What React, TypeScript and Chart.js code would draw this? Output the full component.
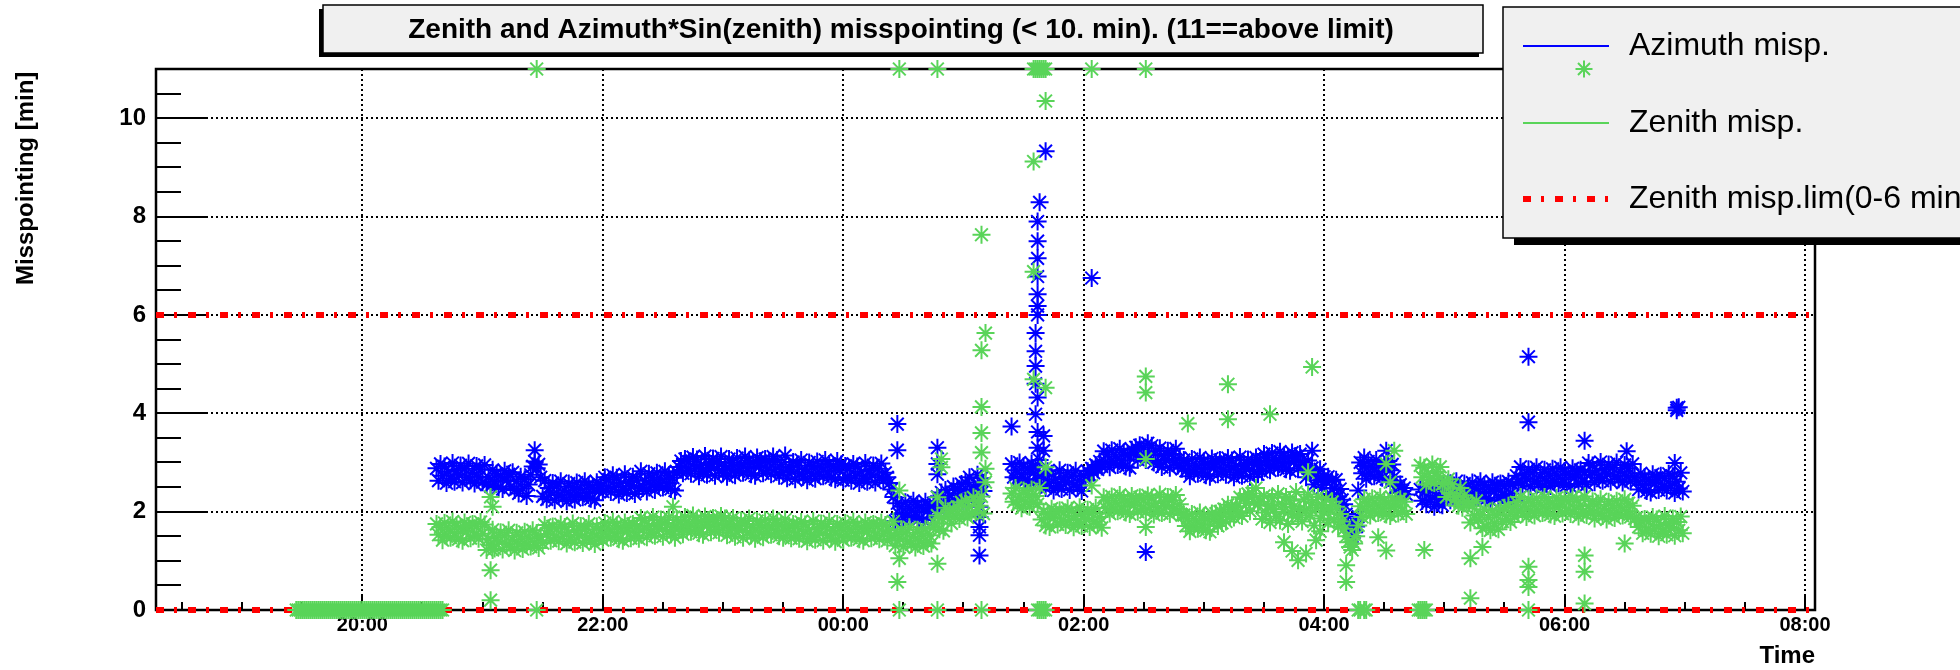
import React, { useEffect, useRef } from "react";
import { Chart, registerables } from "chart.js";

Chart.register(...registerables);

// ---------------- text ----------------
const chartTitle = "Zenith and Azimuth*Sin(zenith) misspointing (< 10. min). (11==above limit)";
const yAxisTitle = "Misspointing [min]";
const xAxisTitle = "Time";
const seriesNames = ["Azimuth misp.", "Zenith misp.", "Zenith misp.lim(0-6 min)"];

// ---------------- axes ----------------
const timeRange = ["18:17", "08:05"];
const timeTickLabels = ["20:00", "22:00", "00:00", "02:00", "04:00", "06:00", "08:00"];
const valueRange = [0, 11];
const valueTicks = [0, 2, 4, 6, 8, 10];

// ---------------- data ----------------
// One reading every SAMPLE_STEP_MIN minutes from BAND_START (null = no reading)
const SAMPLE_STEP_MIN = 1;
const BAND_START = "20:37";

const azimuthBand: (number | null)[] = [
  // 20:37
  2.88, 2.63, 2.97, 2.73, 2.92, 2.58, 2.81, 2.67, 2.99, 2.61, 2.84, 2.75, 2.94, 2.59, 2.87, 2.70, 2.98, 2.64, 2.79, 2.57, 2.93, 2.71, 2.86, 2.60, 2.95,
  2.55, 2.69, 2.52, 2.85, 2.61, 2.77, 2.49, 2.72, 2.46, 2.83, 2.64, 2.76, 2.51, 2.80,
  2.44, 2.62, 2.37, 2.71, 2.47, 2.66, 2.32, 2.55,
  2.75, 2.92, 3.02, 2.88, 2.96, 2.70,
  // 21:30
  2.31, 2.63, 2.25, 2.48, 2.39, 2.58, 2.23, 2.51, 2.34, 2.62, 2.28, 2.43, 2.21, 2.57, 2.35,
  2.50, 2.24, 2.59, 2.32, 2.46, 2.29, 2.62, 2.38, 2.54, 2.26, 2.49, 2.23, 2.60, 2.41, 2.53,
  // 22:00
  2.41, 2.70, 2.47, 2.65, 2.40, 2.74, 2.50, 2.69, 2.35, 2.58, 2.44, 2.76, 2.38, 2.61, 2.52, 2.71, 2.36, 2.64, 2.47,
  2.82, 2.48, 2.63, 2.41, 2.77, 2.55, 2.70, 2.44, 2.79, 2.52, 2.66, 2.49, 2.82, 2.58, 2.74, 2.46, 2.69, 2.43, 2.80,
  // 22:38
  2.91, 3.03, 2.78, 3.07, 2.84,
  3.02, 2.77, 3.11, 2.87, 3.06, 2.72, 2.95, 2.81, 3.13, 2.75, 2.98, 2.89, 3.08, 2.73, 3.01, 2.84, 3.12, 2.78, 2.93, 2.71,
  3.07, 2.85, 3.00, 2.74, 3.09, 2.82, 2.96, 2.79, 3.12, 2.88, 3.04, 2.76, 2.99, 2.73, 3.10, 2.91, 3.03, 2.78, 3.07, 2.84,
  3.01, 2.76, 3.12, 2.86, 3.05, 2.73, 2.96, 2.80, 3.14,
  // 23:32
  2.68, 2.91, 2.82, 3.01, 2.66, 2.94, 2.77, 3.05, 2.71, 2.86, 2.64, 3.00, 2.78, 2.93, 2.67, 3.02, 2.75, 2.89, 2.72, 3.05,
  2.81, 2.97, 2.69, 2.92, 2.66, 3.03, 2.84, 2.96,
  // 00:00
  2.64, 2.93, 2.70, 2.88, 2.63, 2.97, 2.73, 2.92, 2.58, 2.81, 2.67, 2.99, 2.61, 2.84, 2.75, 2.94, 2.59, 2.87, 2.70, 2.98,
  2.64, 2.79, 2.70, 2.58, 2.45, 2.30,
  // 00:26
  1.81, 2.17, 1.95, 2.10, 1.84, 2.19, 1.92, 2.06, 1.89, 2.22, 1.98, 2.14, 1.86, 2.09, 1.83, 2.20, 2.01, 2.13, 1.88, 2.17,
  // 00:46
  2.12, 2.30, 2.05, 2.39, 2.15, 2.44, 2.10, 2.33, 2.19, 2.51, 2.23, 2.46, 2.37, 2.56, 2.21,
  2.59, 2.42, 2.70, 2.36, 2.51, 2.39, 2.75, 2.53, 2.68, 2.42,
  // 01:11
  null, null, null, null, null, null, null, null, null, null, null, null, null,
  // 01:24
  2.97, 2.70, 2.84, 2.67, 3.00, 2.76, 2.92, 2.64, 2.87, 2.61, 2.98, 2.79, 2.91, 2.66,
  // 01:38
  2.78, 2.55, 2.73, 2.48, 2.82, 2.58, 2.77, 2.43, 2.66, 2.52, 2.84, 2.46, 2.69, 2.60, 2.79, 2.44, 2.72, 2.55, 2.83, 2.49,
  2.64, 2.42,
  // 02:00
  2.74, 2.65, 2.82, 2.75, 2.88, 2.79, 2.95, 2.86, 3.02, 2.92,
  // 02:10
  3.23, 3.01, 3.16, 2.90, 3.25, 2.98, 3.12, 2.95, 3.28, 3.04, 3.20, 2.92, 3.15, 2.89, 3.26,
  3.19, 3.31, 3.06, 3.35, 3.12, 3.30, 3.05, 3.39, 3.15, 3.34, 3.00, 3.23,
  2.97, 3.29, 2.91, 3.14, 3.05, 3.24, 2.89, 3.17, 3.00, 3.28, 2.94, 3.09, 2.87,
  // 02:50
  3.05, 2.83, 2.98, 2.72, 3.07, 2.80, 2.94, 2.77, 3.10, 2.86, 3.02, 2.74, 2.97, 2.71, 3.08, 2.89, 3.01, 2.76, 3.05, 2.82,
  3.00, 2.75, 3.09, 2.85, 3.04, 2.70, 2.93, 2.79, 3.11, 2.73, 2.96, 2.87, 3.06, 2.71, 2.99, 2.82, 3.10, 2.76,
  // 03:28
  3.03, 2.81, 3.17, 2.95, 3.10, 2.84, 3.19, 2.92, 3.06, 2.89, 3.22, 2.98, 3.14, 2.86, 3.09, 2.83, 3.20, 3.01, 3.13, 2.88,
  3.17, 2.94,
  // 03:50
  2.95, 2.70, 3.04, 2.80, 2.89, 2.55, 2.78, 2.64, 2.86, 2.48, 2.71, 2.62, 2.71, 2.36, 2.64, 2.47, 2.65, 2.31, 2.46, 2.24,
  // 04:10
  2.15, 1.95, 1.75, 1.62, 1.50, 1.58, 1.70, 1.90,
  // 04:18
  3.00, 2.78, 2.93, 2.67, 3.02, 2.75, 2.89, 2.72, 3.05, 2.81, 2.97, 2.69, 2.92, 2.66, 3.03, 2.84, 2.96, 2.71,
  2.52, 2.38, 2.55, 2.42, 2.48, 2.35,
  // 04:42
  null, null, null, null, null, null,
  // 04:48
  2.45, 2.22, 2.40, 2.15, 2.49, 2.25, 2.44, 2.10, 2.33, 2.19, 2.51, 2.13,
  // 05:00
  2.48, 2.39, 2.58, 2.23, 2.51, 2.34, 2.62, 2.28, 2.43, 2.21, 2.57, 2.35, 2.50, 2.24, 2.59, 2.32, 2.46, 2.29, 2.62, 2.38,
  2.54, 2.26, 2.49, 2.23, 2.60, 2.41, 2.53, 2.28, 2.57, 2.34, 2.52, 2.27, 2.61, 2.37, 2.56, 2.22,
  // 05:36
  2.73, 2.59, 2.91, 2.53, 2.76, 2.67, 2.86, 2.51, 2.79, 2.62, 2.90, 2.56, 2.71, 2.49, 2.85, 2.63, 2.78, 2.52, 2.87, 2.60,
  2.74, 2.57, 2.90, 2.66, 2.82, 2.54, 2.77, 2.51, 2.88, 2.69, 2.81, 2.56, 2.85, 2.62, 2.80, 2.55,
  // 06:12
  2.99, 2.75, 2.94, 2.60, 2.83, 2.69, 3.01, 2.63, 2.86, 2.77, 2.96, 2.61, 2.89, 2.72, 3.00, 2.66, 2.81, 2.59, 2.95, 2.73,
  2.88, 2.62, 2.97, 2.70,
  // 06:36
  2.62, 2.45, 2.78, 2.54, 2.70, 2.42, 2.65, 2.39, 2.76, 2.57, 2.69, 2.44, 2.73, 2.50, 2.68, 2.43, 2.77, 2.53, 2.72, 2.38,
  2.61, 2.47, 2.79, 2.41,
];

const zenithBand: (number | null)[] = [
  // 20:37
  1.75, 1.53, 1.68, 1.42, 1.77, 1.50, 1.64, 1.47, 1.80, 1.56, 1.72, 1.44, 1.67, 1.41, 1.78, 1.59, 1.71, 1.46, 1.75, 1.52,
  1.70, 1.45, 1.79, 1.55, 1.74,
  // 21:02
  1.22, 1.45, 1.31, 1.63, 1.25, 1.48, 1.39, 1.58, 1.23, 1.51, 1.34, 1.62, 1.28, 1.43, 1.21, 1.57, 1.35, 1.50, 1.24, 1.59,
  1.32, 1.46, 1.29, 1.62, 1.38, 1.54, 1.26, 1.49,
  // 21:30
  1.36, 1.73, 1.54, 1.66, 1.41, 1.70, 1.47, 1.65, 1.40, 1.74, 1.50, 1.69, 1.35, 1.58, 1.44, 1.76, 1.38, 1.61, 1.52, 1.71,
  1.36, 1.64, 1.47, 1.75, 1.41, 1.56, 1.34, 1.70, 1.48, 1.63,
  // 22:00
  1.42, 1.77, 1.50, 1.64, 1.47, 1.80, 1.56, 1.72, 1.44, 1.67, 1.41, 1.78, 1.59, 1.71, 1.46, 1.75, 1.52, 1.70, 1.45,
  1.87, 1.63, 1.82, 1.48, 1.71, 1.57, 1.89, 1.51, 1.74, 1.65, 1.84, 1.49, 1.77, 1.60, 1.88, 1.54, 1.69, 1.47, 1.83,
  // 22:38
  1.65, 1.80, 1.54, 1.89, 1.62, 1.76, 1.59, 1.92, 1.68, 1.84, 1.56, 1.79, 1.53, 1.90, 1.71, 1.83, 1.58, 1.87, 1.64, 1.82,
  1.57, 1.91, 1.67, 1.86, 1.52, 1.75, 1.61,
  1.87, 1.49, 1.72, 1.63, 1.82, 1.47, 1.75, 1.58, 1.86, 1.52, 1.67, 1.45, 1.81, 1.59, 1.74, 1.48, 1.83, 1.56, 1.70, 1.53,
  1.86, 1.62, 1.78, 1.50, 1.73, 1.47, 1.84,
  // 23:32
  1.59, 1.71, 1.46, 1.75, 1.52,
  1.70, 1.45, 1.79, 1.55, 1.74, 1.40, 1.63, 1.49, 1.81, 1.43, 1.66, 1.57, 1.76, 1.41, 1.69, 1.52, 1.80, 1.46, 1.61, 1.39,
  1.75, 1.53, 1.68, 1.42, 1.77, 1.50, 1.64, 1.47, 1.80, 1.56, 1.72, 1.44, 1.67, 1.41, 1.78, 1.59, 1.71, 1.46, 1.75, 1.52,
  1.71, 1.44, 1.78, 1.56, 1.73, 1.41, 1.62, 1.50, 1.80,
  // 00:26
  1.31, 1.54, 1.45, 1.64, 1.29, 1.57, 1.40, 1.68, 1.34, 1.49, 1.27, 1.63, 1.41, 1.56, 1.30, 1.65, 1.38, 1.52, 1.35, 1.68,
  // 00:46
  1.76, 1.92, 1.64, 1.87, 1.61, 2.08, 1.89, 2.01, 1.76, 2.05, 1.92, 2.10, 1.85, 2.19, 1.95,
  2.22, 1.88, 2.11, 1.97, 2.29, 1.98, 2.21, 2.12, 2.31, 1.96,
  // 01:11
  null, null, null, null, null, null, null, null, null, null, null, null, null,
  // 01:24
  2.37, 2.20, 2.48, 2.14, 2.29, 2.07, 2.43, 2.21, 2.36, 2.10, 2.45, 2.18, 2.32, 2.15, 2.48,
  // 01:39
  1.84, 2.00, 1.72, 1.95, 1.69, 2.06, 1.87, 1.99, 1.74, 2.03, 1.80,
  1.98, 1.73, 2.07, 1.83, 2.02, 1.68, 1.91, 1.77, 2.09, 1.71, 1.94, 1.85, 2.04, 1.69, 1.97, 1.80, 2.08, 1.74, 1.89, 1.67,
  // 02:10
  2.29, 2.07, 2.22, 1.96, 2.31, 2.04, 2.18, 2.01, 2.34, 2.10, 2.26, 1.98, 2.21, 1.95, 2.32, 2.13, 2.25, 2.00, 2.29, 2.06,
  2.24, 1.99, 2.33, 2.09, 2.28, 1.94, 2.17, 2.03, 2.35, 1.97, 2.20, 2.11, 2.30, 1.95, 2.23, 2.06, 2.34, 2.00, 2.15, 1.93,
  // 02:50
  1.93, 1.71, 1.86, 1.60, 1.95, 1.68, 1.82, 1.65, 1.98, 1.74, 1.90, 1.62, 1.85, 1.59, 1.96,
  // 03:05
  1.84, 1.96, 1.71, 2.00, 1.77, 2.05, 1.80, 2.14, 1.90, 2.09, 1.88, 2.11, 1.97, 2.29, 1.91,
  2.26, 2.17, 2.36, 2.01, 2.37, 2.20, 2.48, 2.14,
  // 03:28
  2.20, 1.85, 2.32, 1.98, 2.12, 1.78, 2.28, 2.05, 1.90, 2.36, 1.82, 2.15, 2.00, 2.30, 1.75, 2.22, 1.95, 2.10, 2.40, 1.88,
  2.05, 1.80, 2.25, 2.02, 2.35, 1.92, 2.18, 1.72, 2.08, 2.30, 1.86, 2.14, 1.98, 2.26, 1.78, 2.04, 2.20, 1.84, 2.10, 1.70,
  1.95, 1.80,
  // 04:10
  1.65, 1.50, 1.38, 1.28, 1.22, 1.35, 1.50, 1.72,
  // 04:18
  2.11, 1.89, 2.25, 2.03, 2.18, 1.92, 2.27, 2.00, 2.14, 1.97, 2.30, 2.06, 2.22, 1.94, 2.17, 1.91, 2.28, 2.09, 2.21, 1.96,
  2.25, 2.02, 2.20, 1.95,
  // 04:42
  null, null, null, null, null, null,
  // 04:48
  2.94, 2.70, 2.89, 2.55, 2.78, 2.64, 2.96, 2.58, 2.81, 2.72, 2.91, 2.56,
  // 05:00
  2.58, 2.30, 2.66, 2.38, 2.55, 2.24, 2.30, 2.12, 2.48, 2.08, 2.33, 2.20,
  2.17, 1.78, 2.11, 1.92, 2.22, 1.84, 1.93, 1.66, 2.05, 1.70, 1.88, 1.62,
  2.02, 1.76, 1.93, 1.64, 2.04, 1.80, 2.08, 1.85, 2.12, 1.79, 2.02, 1.90,
  // 05:36
  2.19, 2.02, 2.30, 1.96, 2.11, 1.89, 2.25, 2.03, 2.18, 1.92, 2.27, 2.00, 2.14, 1.97, 2.30, 2.06, 2.22, 1.94, 2.17, 1.91,
  2.28, 2.09, 2.21, 1.96, 2.25, 2.02, 2.20, 1.95, 2.29, 2.05, 2.24, 1.90, 2.13, 1.99, 2.31, 1.93,
  // 06:12
  2.11, 2.02, 2.21, 1.86, 2.14, 1.97, 2.25, 1.91, 2.06, 1.84, 2.20, 1.98, 2.13, 1.87, 2.22, 1.95, 2.09, 1.92, 2.25, 2.01,
  2.17, 1.89, 2.12, 1.86,
  // 06:36
  1.88, 1.69, 1.81, 1.56, 1.85, 1.62, 1.80, 1.55, 1.89, 1.65, 1.84, 1.50, 1.73, 1.59, 1.91, 1.53, 1.76, 1.67, 1.86, 1.51,
  1.79, 1.62, 1.90, 1.56,
];

// Zenith readings stuck at 0 before the run started (one per minute from ZERO_RUN_START)
const ZERO_RUN_START = "19:27";
const zenithZeroRun = [
  0, 0, 0, 0, 0, 0, 0, 0, 0, 0,
  0, 0, 0, 0, 0, 0, 0, 0, 0, 0,
  0, 0, 0, 0, 0, 0, 0, 0, 0, 0,
  0, 0, 0, 0, 0, 0, 0, 0, 0, 0,
  0, 0, 0, 0, 0, 0, 0, 0, 0, 0,
  0, 0, 0, 0, 0, 0, 0, 0, 0, 0,
  0, 0, 0, 0, 0, 0, 0, 0, 0, 0,
  0, 0, 0, 0,
];

// Isolated readings
const azimuthOutlierTimes = [
  "21:26", "00:27", "00:27", "00:47", "00:47", "00:47",
  "01:08", "01:08", "01:08", "01:08", "01:08", "01:24",
  "01:41", "01:38", "01:37", "01:37", "01:37", "01:37", "01:37", "01:37", "01:37",
  "01:36", "01:36", "01:36", "01:36", "01:37", "01:36", "01:37", "01:37", "01:38", "01:40", "01:40",
  "02:04", "02:31", "03:54", "04:17", "04:31", "04:20",
  "05:42", "05:42", "06:10", "06:31", "06:55", "06:56", "06:56", "06:57",
];
const azimuthOutlierValues = [
  3.25, 3.78, 3.25, 3.30, 2.97, 2.76,
  2.10, 1.89, 1.69, 1.52, 1.11, 3.73,
  9.33, 8.29, 7.90, 7.50, 7.15, 6.78, 6.42, 6.18, 6.00,
  5.63, 5.26, 4.96, 4.60, 4.32, 3.98, 3.62, 3.30, 3.05, 3.54, 3.24,
  6.75, 1.18, 3.24, 2.43, 3.24, 3.10,
  5.15, 3.82, 3.44, 3.23, 2.99, 4.11, 4.06, 4.12,
];

const zenithOutlierTimes = [
  "21:27", "00:28", "00:47", "01:35", "01:36", "01:37", "01:38", "01:39", "01:40", "01:41", "02:04", "02:31",
  "21:27", "00:28", "00:47", "01:09", "01:37", "01:38", "01:39", "01:40", "01:41",
  "04:17", "04:18", "04:20", "04:21", "04:47", "04:48", "04:49", "04:50", "04:51", "05:42", "06:10",
  "21:04", "21:05", "21:05", "21:04", "21:04", "22:35",
  "00:28", "00:28", "00:27", "00:47", "00:47", "00:49", "00:49",
  "01:09", "01:11", "01:09", "01:09", "01:09", "01:09", "01:11", "01:11",
  "01:35", "01:41", "01:35", "01:35", "01:41", "01:41",
  "02:04", "02:31", "02:31", "02:31", "02:31", "02:52",
  "03:12", "03:12", "03:33", "03:54", "03:52", "03:40", "03:47", "03:51", "03:56", "03:44", "03:58",
  "04:11", "04:11", "04:27", "04:31", "04:31", "04:35", "04:33",
  "04:50", "05:13", "05:13", "05:19",
  "05:42", "05:42", "05:42", "06:10", "06:10", "06:30",
];
const zenithOutlierValues = [
  11, 11, 11, 11, 11, 11, 11, 11, 11, 11, 11, 11,
  0, 0, 0, 0, 0, 0, 0, 0, 0,
  0, 0, 0, 0, 0, 0, 0, 0, 0, 0, 0.13,
  2.30, 2.10, 1.22, 0.81, 0.20, 2.10,
  2.43, 1.05, 0.57, 2.29, 0.94, 3.07, 2.90,
  7.63, 5.63, 5.28, 4.13, 3.60, 3.20, 2.87, 2.60,
  9.12, 10.35, 6.88, 4.69, 4.52, 2.90,
  2.53, 4.75, 4.42, 3.07, 1.69, 3.79,
  4.59, 3.88, 3.98, 4.94, 2.80, 1.38, 1.01, 1.15, 1.42, 1.20, 1.60,
  0.91, 0.57, 1.48, 1.21, 2.97, 3.24, 2.60,
  1.22, 1.05, 0.24, 1.28,
  0.88, 0.61, 0.47, 1.11, 0.78, 1.35,
];

// Zenith misspointing limits
const limitValues = [6, 0];

// ---------------- style ----------------
const FONT = '"Liberation Sans", Arial, Helvetica, sans-serif';
const BLUE = "#0000ff";
const GREEN = "#59d459";
const RED = "#ff0000";
const LIMIT_DASH = [8, 10, 3, 11];

// ---------------- helpers ----------------
const toHours = (t: string) => {
  const [hh, mm] = t.split(":").map(Number);
  const h = hh + mm / 60;
  return h >= 12 ? h - 24 : h;
};
const fmtHours = (v: number) => {
  const h = v < 0 ? v + 24 : v;
  const hh = Math.floor(h + 1e-6);
  const mm = Math.round((h - hh) * 60);
  return `${String(hh).padStart(2, "0")}:${String(mm).padStart(2, "0")}`;
};
const runPoints = (start: string, values: (number | null)[]) => {
  const t0 = toHours(start);
  const out: { x: number; y: number }[] = [];
  values.forEach((v, i) => {
    if (v !== null) out.push({ x: t0 + (i * SAMPLE_STEP_MIN) / 60, y: v });
  });
  return out;
};
const pairPoints = (times: string[], values: number[]) =>
  times.map((t, i) => ({ x: toHours(t), y: values[i] }));

const drawAsterisk = (ctx: CanvasRenderingContext2D, cx: number, cy: number, r: number) => {
  const d = r * Math.SQRT1_2;
  ctx.beginPath();
  ctx.moveTo(cx - r, cy); ctx.lineTo(cx + r, cy);
  ctx.moveTo(cx, cy - r); ctx.lineTo(cx, cy + r);
  ctx.moveTo(cx - d, cy - d); ctx.lineTo(cx + d, cy + d);
  ctx.moveTo(cx - d, cy + d); ctx.lineTo(cx + d, cy - d);
  ctx.stroke();
};

// Frame and inside ticks (ROOT style)
const framePlugin = {
  id: "rootFrame",
  beforeDatasetsDraw(chart: any) {
    const { ctx, chartArea: a, scales } = chart;
    const xs = scales.x;
    const ys = scales.y;
    ctx.save();
    ctx.strokeStyle = "#000";
    ctx.lineWidth = 2;
    for (let v = valueRange[0]; v <= valueRange[1] + 1e-9; v += 0.5) {
      const py = Math.round(ys.getPixelForValue(v));
      const len = Math.abs(v % 2) < 1e-9 ? 50 : 25;
      ctx.beginPath();
      ctx.moveTo(a.left, py);
      ctx.lineTo(a.left + len, py);
      ctx.stroke();
    }
    const t0 = Math.ceil(toHours(timeRange[0]) * 2) / 2;
    const t1 = toHours(timeRange[1]);
    for (let t = t0; t <= t1 + 1e-9; t += 0.5) {
      const px = Math.round(xs.getPixelForValue(t));
      const major = Math.abs(((t % 2) + 2) % 2) < 1e-9;
      const len = major ? 16 : 8;
      ctx.beginPath();
      ctx.moveTo(px, a.bottom);
      ctx.lineTo(px, a.bottom - len);
      ctx.stroke();
    }
    ctx.lineWidth = 2.5;
    ctx.strokeRect(a.left, a.top, a.right - a.left, a.bottom - a.top);
    ctx.restore();
  },
};

// Title box, axis titles, legend box
const decorPlugin = {
  id: "rootDecor",
  afterDraw(chart: any) {
    const { ctx, chartArea: a } = chart;
    ctx.save();
    const T = { x: 323, y: 5, w: 1160, h: 48 };
    ctx.fillStyle = "#000";
    ctx.fillRect(T.x - 4, T.y + 4, T.w, T.h);
    ctx.fillStyle = "#f0f0f0";
    ctx.fillRect(T.x, T.y, T.w, T.h);
    ctx.strokeStyle = "#000";
    ctx.lineWidth = 1.5;
    ctx.strokeRect(T.x, T.y, T.w, T.h);
    ctx.fillStyle = "#000";
    ctx.font = `bold 28px ${FONT}`;
    ctx.textAlign = "center";
    ctx.textBaseline = "middle";
    ctx.fillText(chartTitle, T.x + T.w / 2 - 2, T.y + T.h / 2 + 1);

    ctx.font = `bold 24px ${FONT}`;
    ctx.save();
    ctx.translate(33, 285);
    ctx.rotate(-Math.PI / 2);
    ctx.textAlign = "left";
    ctx.textBaseline = "alphabetic";
    ctx.fillText(yAxisTitle, 0, 0);
    ctx.restore();
    ctx.font = `bold 24px ${FONT}`;
    ctx.textAlign = "right";
    ctx.textBaseline = "alphabetic";
    ctx.fillText(xAxisTitle, a.right, 663);

    const L = { x: 1503, y: 7, w: 500, h: 231 };
    ctx.fillStyle = "#000";
    ctx.fillRect(L.x + 11, L.y + 7, L.w, L.h);
    ctx.fillStyle = "#f0f0f0";
    ctx.fillRect(L.x, L.y, L.w, L.h);
    ctx.strokeStyle = "#000";
    ctx.lineWidth = 1.5;
    ctx.strokeRect(L.x, L.y, L.w, L.h);

    const x0 = 1523, x1 = 1609, tx = 1629;
    ctx.strokeStyle = BLUE; ctx.lineWidth = 2;
    ctx.beginPath(); ctx.moveTo(x0, 46); ctx.lineTo(x1, 46); ctx.stroke();
    ctx.strokeStyle = GREEN; ctx.lineWidth = 2;
    drawAsterisk(ctx, 1584, 69, 8.5);
    ctx.strokeStyle = GREEN; ctx.lineWidth = 2;
    ctx.beginPath(); ctx.moveTo(x0, 123); ctx.lineTo(x1, 123); ctx.stroke();
    ctx.strokeStyle = RED; ctx.lineWidth = 6; ctx.setLineDash(LIMIT_DASH);
    ctx.beginPath(); ctx.moveTo(x0, 199); ctx.lineTo(x1, 199); ctx.stroke();
    ctx.setLineDash([]);

    ctx.fillStyle = "#000";
    ctx.font = `32px ${FONT}`;
    ctx.textAlign = "left";
    ctx.textBaseline = "alphabetic";
    ctx.fillText(seriesNames[0], tx, 55);
    ctx.fillText(seriesNames[1], tx, 132);
    ctx.fillText(seriesNames[2], tx, 208);
    ctx.restore();
  },
};

export default function App() {
  const canvasRef = useRef<HTMLCanvasElement | null>(null);

  useEffect(() => {
    const canvas = canvasRef.current;
    if (!canvas) return;
    const xMin = toHours(timeRange[0]);
    const xMax = toHours(timeRange[1]);

    const zenithData = [
      ...runPoints(ZERO_RUN_START, zenithZeroRun),
      ...runPoints(BAND_START, zenithBand),
      ...pairPoints(zenithOutlierTimes, zenithOutlierValues),
    ];
    const azimuthData = [
      ...runPoints(BAND_START, azimuthBand),
      ...pairPoints(azimuthOutlierTimes, azimuthOutlierValues),
    ];
    const markerStyle = {
      pointStyle: "star" as const,
      pointRadius: 9,
      pointBorderWidth: 2,
      showLine: false,
      clip: false as any,
    };
    const limitDatasets = limitValues.map((v, i) => ({
      type: "line" as const,
      label: i === 0 ? seriesNames[2] : "",
      data: [{ x: xMin, y: v }, { x: xMax, y: v }],
      borderColor: RED,
      borderWidth: 6,
      borderDash: LIMIT_DASH,
      borderCapStyle: "butt" as const,
      pointRadius: 0,
      showLine: true,
      fill: false,
      order: 3,
      clip: false as any,
    }));

    const chart = new Chart(canvas, {
      type: "scatter",
      data: {
        datasets: [
          {
            label: seriesNames[1],
            data: zenithData,
            borderColor: GREEN,
            backgroundColor: GREEN,
            order: 1,
            ...markerStyle,
          },
          {
            label: seriesNames[0],
            data: azimuthData,
            borderColor: BLUE,
            backgroundColor: BLUE,
            order: 2,
            ...markerStyle,
          },
          ...limitDatasets,
        ] as any,
      },
      options: {
        responsive: false,
        animation: false,
        devicePixelRatio: 1,
        events: [],
        layout: { padding: { top: 69, right: 145, left: 0, bottom: 0 } },
        plugins: {
          legend: { display: false },
          title: { display: false },
          tooltip: { enabled: false },
        },
        scales: {
          x: {
            type: "linear",
            min: xMin,
            max: xMax,
            afterBuildTicks: (s: any) => {
              s.ticks = timeTickLabels.map((l) => ({ value: toHours(l) }));
            },
            afterFit: (s: any) => {
              s.height = 60;
            },
            ticks: {
              callback: (v: any) => fmtHours(Number(v)),
              color: "#000",
              font: { family: FONT, size: 20, weight: "bold" },
              padding: 3,
              autoSkip: false,
              maxRotation: 0,
            },
            grid: { color: "#000", lineWidth: 2, drawTicks: false },
            border: { display: false, dash: [2, 3] },
          },
          y: {
            type: "linear",
            min: valueRange[0],
            max: valueRange[1],
            afterBuildTicks: (s: any) => {
              s.ticks = valueTicks.map((v) => ({ value: v }));
            },
            afterFit: (s: any) => {
              s.width = 156;
            },
            ticks: {
              callback: (v: any) => String(v),
              color: "#000",
              font: { family: FONT, size: 24, weight: "bold" },
              padding: 10,
              autoSkip: false,
            },
            grid: { color: "#000", lineWidth: 2, drawTicks: false },
            border: { display: false, dash: [2, 3] },
          },
        },
      },
      plugins: [framePlugin, decorPlugin],
    });
    return () => chart.destroy();
  }, []);

  return (
    <div style={{ position: "absolute", left: 0, top: 0, width: 1960, height: 670, background: "#fff" }}>
      <canvas ref={canvasRef} width={1960} height={670} style={{ display: "block" }} />
    </div>
  );
}
